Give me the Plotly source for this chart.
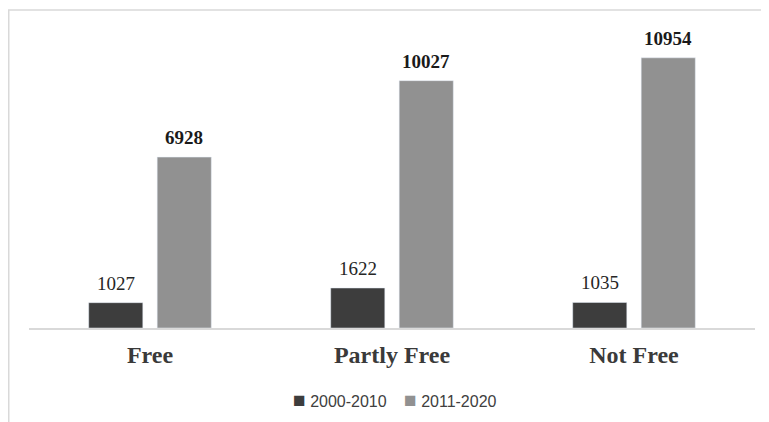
import plotly.graph_objects as go

categories = ["Free", "Partly Free", "Not Free"]
series_names = ["2000-2010", "2011-2020"]
values_2000_2010 = [1027, 1622, 1035]
values_2011_2020 = [6928, 10027, 10954]
series_values = [values_2000_2010, values_2011_2020]
series_colors = ["#3d3d3d", "#919191"]

OFF = 8  # page body margin
W, H = 761, 414
ML, MT = 21, 24
PW, PH = 726, 296
MR = W - ML - PW
MB = H - MT - PH

def px_x(p):
    return (p - OFF - ML) / PW

def px_y(p):
    return (MT + PH - (p - OFF)) / PH

fig = go.Figure()
for name, vals, col in zip(series_names, series_values, series_colors):
    fig.add_trace(go.Bar(x=categories, y=vals, name=name,
                         marker=dict(color=col), showlegend=False))

annotations = []
shifts = [-34.25, 34.25]
for i, vals in enumerate(series_values):
    for c, v in zip(categories, vals):
        txt = str(v) if i == 0 else "<b>%d</b>" % v
        annotations.append(dict(
            x=c, y=v, xref="x", yref="y", text=txt, showarrow=False,
            xshift=shifts[i], yshift=7, yanchor="bottom", xanchor="center",
            font=dict(family="Liberation Serif", size=19,
                      color="#262626" if i == 0 else "#1a1a1a")))

legend_x = [291, 402]
for name, col, lx in zip(series_names, series_colors, legend_x):
    annotations.append(dict(
        x=px_x(lx), y=px_y(399), xref="paper", yref="paper",
        xanchor="left", yanchor="middle", showarrow=False,
        text="<span style='color:%s;font-size:21px'>■</span> %s" % (col, name),
        font=dict(family="Liberation Sans", size=16, color="#404040")))

frame_color = "#d9d9d9"
fig.update_layout(
    width=W, height=H,
    margin=dict(l=ML, r=MR, t=MT, b=MB, autoexpand=False),
    paper_bgcolor="white", plot_bgcolor="white",
    barmode="group", bargap=0.434, bargroupgap=0.21,
    showlegend=False,
    xaxis=dict(showline=True, linecolor=frame_color, linewidth=1.5,
               showgrid=False, ticks="", ticklabelstandoff=4,
               tickfont=dict(family="Liberation Serif", size=24, color="#3a3a3a"),
               tickprefix="<b>", ticksuffix="</b>"),
    yaxis=dict(range=[0, 12000], visible=False, showgrid=False),
    annotations=annotations,
    shapes=[
        dict(type="line", xref="paper", yref="paper",
             x0=px_x(8.75), x1=px_x(8.75), y0=px_y(10), y1=px_y(430),
             line=dict(color=frame_color, width=1.5)),
        dict(type="line", xref="paper", yref="paper",
             x0=px_x(8), x1=px_x(780), y0=px_y(10), y1=px_y(10),
             line=dict(color=frame_color, width=1.5)),
    ],
)

fig.write_html("out.html")
